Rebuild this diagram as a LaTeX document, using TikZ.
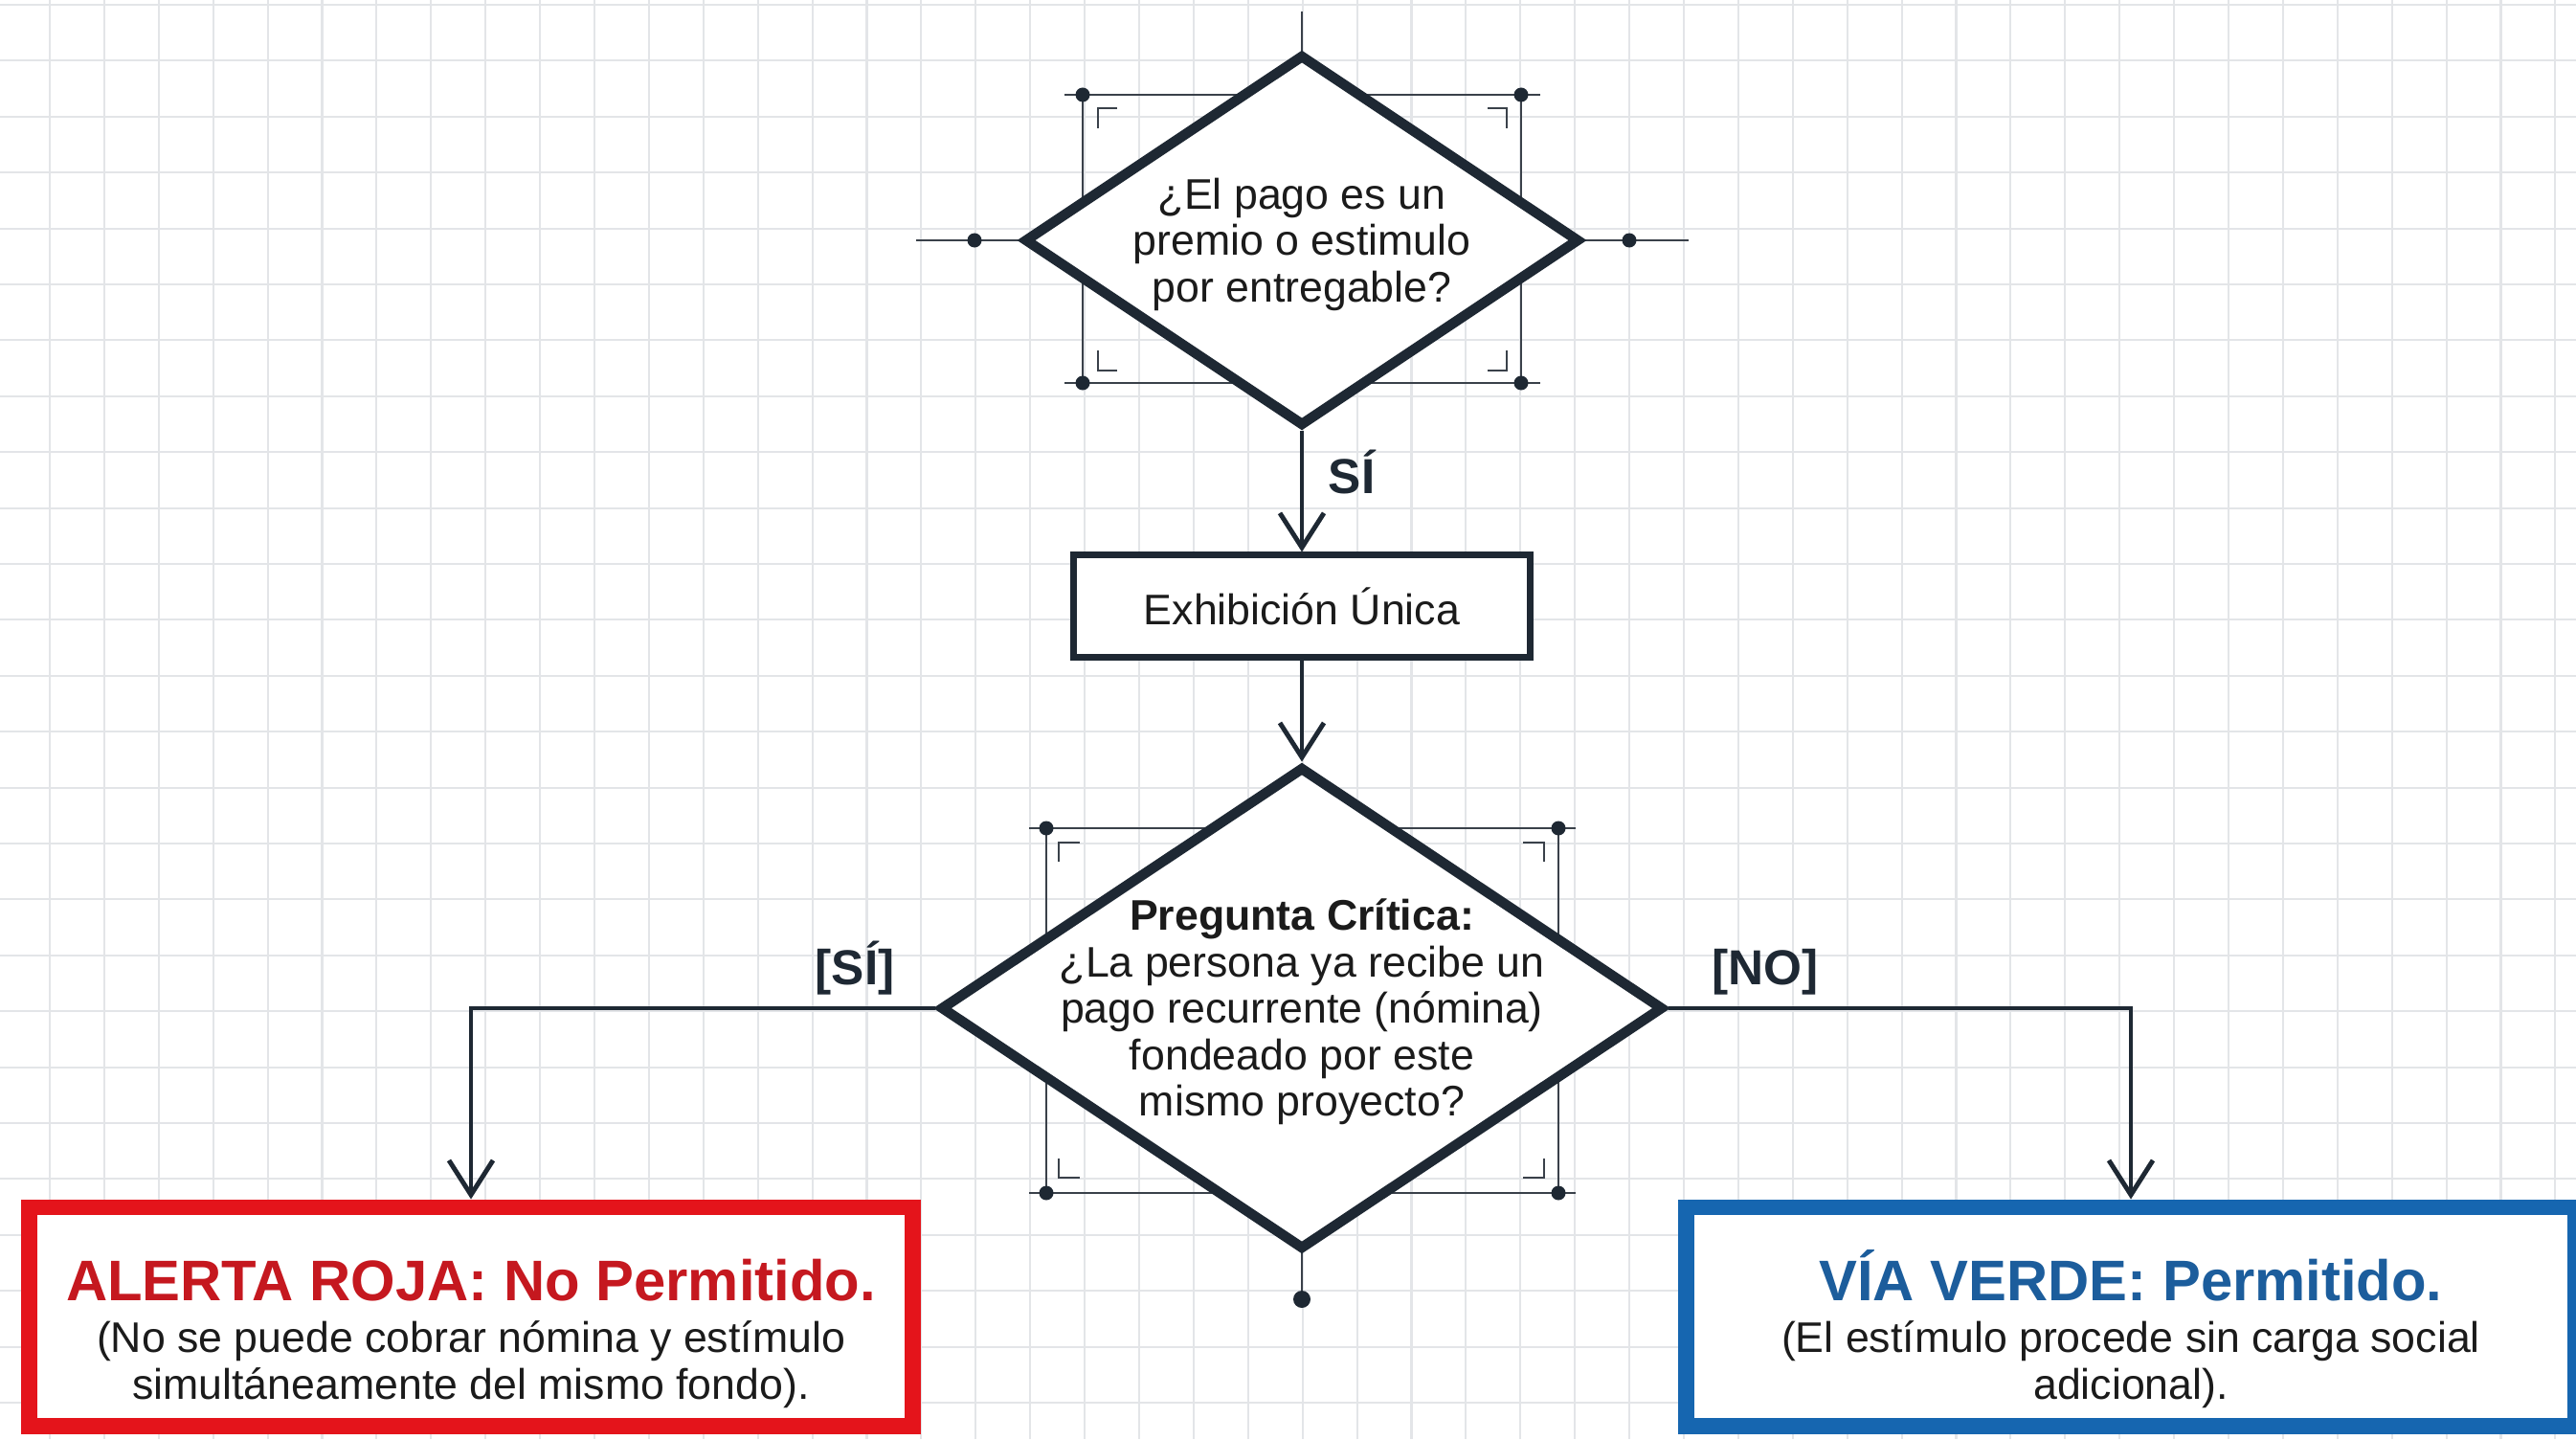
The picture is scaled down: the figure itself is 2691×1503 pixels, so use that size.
\documentclass[tikz,border=0pt]{standalone}
\usepackage{fontspec}
\setmainfont{Liberation Sans}
\usetikzlibrary{shapes.geometric}
\usetikzlibrary{arrows.meta}
\usetikzlibrary{backgrounds}
\definecolor{ink}{HTML}{1E2833}
\definecolor{gridgray}{HTML}{E3E5E8}
\definecolor{handlegray}{HTML}{3A414A}
\definecolor{rojo}{HTML}{E4141B}
\definecolor{rojotxt}{HTML}{C5181F}
\definecolor{azul}{HTML}{1666B0}
\definecolor{azultxt}{HTML}{1C5D9C}
\definecolor{txt}{HTML}{1B1B1B}
\tikzset{
  decision/.style={diamond, draw=ink, line width=3pt, fill=white, inner sep=0pt},
  qtext/.style={align=center, text=txt, yshift=-0.4mm},
  process/.style={rectangle, draw=ink, line width=2pt, fill=white, text=txt,
    minimum width=4.76cm, minimum height=1.06cm},
  outcome/.style={rectangle, line width=4.8pt, fill=white, align=center, text=txt,
    minimum width=9.22cm, minimum height=2.28cm},
  flow/.style={draw=ink, line width=1.4pt, -{Straight Barb[length=3.6mm, width=4.6mm]}},
  handle/.style={draw=handlegray, line width=0.7pt},
  gridline/.style={draw=gridgray, line width=0.6pt},
  lbl/.style={text=ink, font=\fontsize{14.6pt}{16pt}\selectfont\bfseries}
}
\newcommand{\headline}[2]{{\fontsize{17pt}{20pt}\selectfont\bfseries\color{#1}\rule{0pt}{22.4pt}#2}}

\begin{document}
\begin{tikzpicture}[x=0.01cm, y=-0.01cm, font=\fontsize{12.7pt}{13.8pt}\selectfont]

\useasboundingbox (0,0) rectangle (2691,1503);

% decisions and boxes
\node[decision, minimum width=5.8cm, minimum height=3.88cm] (pago) at (1360,251) {};
\node[qtext] (pagotxt) at (pago.center) {¿El pago es un\\premio o estimulo\\por entregable?};
\node[process] (unica) at (1360,633) {Exhibición Única};
\node[decision, minimum width=7.55cm, minimum height=5.04cm] (critica) at (1360,1053) {};
\node[qtext] (criticatxt) at (critica.center) {\textbf{Pregunta Crítica:}\\¿La persona ya recibe un\\pago recurrente (nómina)\\fondeado por este\\mismo proyecto?};
\node[outcome, draw=rojo] (roja) at (492,1375)
  {\headline{rojotxt}{ALERTA ROJA: No Permitido.}\\[1.6pt](No se puede cobrar nómina y estímulo\\simultáneamente del mismo fondo).};
\node[outcome, draw=azul, minimum width=9.28cm] (verde) at (2226,1375)
  {\headline{azultxt}{VÍA VERDE: Permitido.}\\[1.6pt](El estímulo procede sin carga social\\adicional).};

% connectors
\draw[flow] (pago) -- (unica);
\draw[flow] (unica) -- (critica);
\draw[flow] (critica.west) -| (roja.north);
\draw[flow] (critica.east) -| (verde.north);

\node[lbl, anchor=base] (si) at (1412,515) {SÍ};
\node[lbl, anchor=base] (sirama) at (893,1028) {[SÍ]};
\node[lbl, anchor=base] (norama) at (1844,1028) {[NO]};

\begin{scope}[on background layer]
  % grid
  \foreach \i in {0,...,46}
    \draw[gridline] (52+56.9*\i,0) -- (52+56.9*\i,1503);
  \foreach \j in {0,...,25}
    \draw[gridline] (0,5+58.4*\j) -- (2691,5+58.4*\j);

  % selection frame of the first question
  \draw[handle] (1360,12) -- (1360,251);
  \draw[handle] (957,251) -- (1764,251);
  \draw[handle] (1112,99) -- (1609,99);
  \draw[handle] (1112,400) -- (1609,400);
  \draw[handle] (1131,99) -- (1131,400);
  \draw[handle] (1589,99) -- (1589,400);
  \foreach \cx/\cy/\sx/\sy in {1147/113/1/1, 1574/113/-1/1, 1147/387/1/-1, 1574/387/-1/-1}
    \draw[handle] (\cx+20*\sx,\cy) -- (\cx,\cy) -- (\cx,\cy+21*\sy);
  \foreach \x/\y in {1018/251, 1702/251, 1131/99, 1589/99, 1131/400, 1589/400}
    \fill[ink] (\x,\y) circle (0.75mm);

  % selection frame of the critical question
  \draw[handle] (1360,1053) -- (1360,1357);
  \draw[handle] (1075,865) -- (1646,865);
  \draw[handle] (1075,1246) -- (1646,1246);
  \draw[handle] (1093,865) -- (1093,1246);
  \draw[handle] (1628,865) -- (1628,1246);
  \foreach \cx/\cy/\sx/\sy in {1106/880/1/1, 1613/880/-1/1, 1106/1230/1/-1, 1613/1230/-1/-1}
    \draw[handle] (\cx+22*\sx,\cy) -- (\cx,\cy) -- (\cx,\cy+20*\sy);
  \foreach \x/\y in {1093/865, 1628/865, 1093/1246, 1628/1246}
    \fill[ink] (\x,\y) circle (0.75mm);
  \fill[ink] (1360,1357) circle (0.9mm);
\end{scope}

\end{tikzpicture}
\end{document}
